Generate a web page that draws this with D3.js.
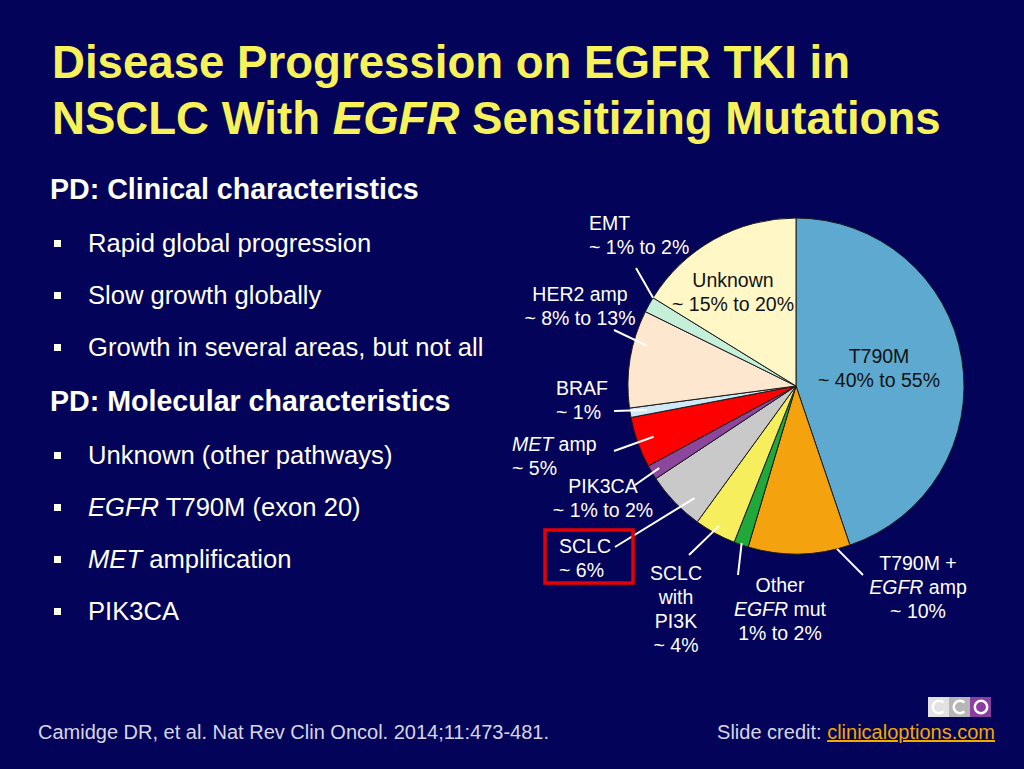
<!DOCTYPE html>
<html lang="en">
<head>
<meta charset="UTF-8">
<title>Disease Progression on EGFR TKI</title>
<style>
    body{ margin:0; background:#03035a; }
    svg{ display:block; font-family: "Liberation Sans", Arial, sans-serif; }
    .title{ fill:#f7f25a; font-weight:bold; font-size:45.6px; }
    .head{ fill:#fffff2; font-weight:bold; font-size:28.6px; }
    .bullet{ fill:#fffff2; font-size:25.6px; }
    .slice{ stroke:#1c1c1c; stroke-width:1px; }
    .lbl{ fill:#ffffff; font-size:19.5px; }
    .lbl.inside{ fill:#111111; }
    .leader{ stroke:#ffffff; stroke-width:2px; }
    .cite{ fill:#d6d6e6; font-size:20px; }
    .link{ fill:#f2a900; text-decoration:underline; }
</style>
<script src="https://cdn.jsdelivr.net/npm/d3@7"></script>
</head>
<body>
<script>
    // ---- data ----
    const titleLines = ["Disease Progression on EGFR TKI in", "NSCLC With _EGFR_ Sensitizing Mutations"];
    const clinicalHead = "PD: Clinical characteristics";
    const clinicalItems = ["Rapid global progression", "Slow growth globally", "Growth in several areas, but not all"];
    const molecularHead = "PD: Molecular characteristics";
    const molecularItems = ["Unknown (other pathways)", "_EGFR_ T790M (exon 20)", "_MET_ amplification", "PIK3CA"];

    // pie slices, clockwise from 12 o'clock
    const categories = ["T790M", "T790M + EGFR amp", "Other EGFR mut", "SCLC with PI3K", "SCLC",
        "PIK3CA", "MET amp", "BRAF", "HER2 amp", "EMT", "Unknown"];
    const shares = [44.8, 9.8, 1.4, 4.0, 5.7, 1.4, 4.9, 0.9, 9.4, 1.5, 16.2];
    const labelText = [
        ["T790M", "~ 40% to 55%"],
        ["T790M +", "_EGFR_ amp", "~ 10%"],
        ["Other", "_EGFR_ mut", "1% to 2%"],
        ["SCLC", "with", "PI3K", "~ 4%"],
        ["SCLC", "~ 6%"],
        ["PIK3CA", "~ 1% to 2%"],
        ["_MET_ amp", "~ 5%"],
        ["BRAF", "~ 1%"],
        ["HER2 amp", "~ 8% to 13%"],
        ["EMT", "~ 1% to 2%"],
        ["Unknown", "~ 15% to 20%"]
    ];
    const citation = "Camidge DR, et al. Nat Rev Clin Oncol. 2014;11:473-481.";

    // ---- styles / layout ----
    const sliceColors = ["#5da9cf", "#f4a30e", "#21a83a", "#f6ee5c", "#c9c9c9",
        "#8c479c", "#ff0000", "#cfe9f6", "#fde8cf", "#c6efd9", "#fff8c6"];
    // label anchor (x, first baseline y), text-anchor, leader outer end, leader inner point (t along slice, radius factor)
    const labelLayout = [
        {x:879, y:363, a:"middle", inside:true},
        {x:918, y:570, a:"middle", lx:863, ly:575, t:0.13, rf:1.0},
        {x:780, y:592, a:"middle", lx:738, ly:575, t:0.5, rf:0.99},
        {x:676, y:580, a:"middle", lx:689, ly:555, t:0.5, rf:0.95},
        {x:559, y:553, a:"start",  lx:615, ly:547, t:0.3, rf:0.9},
        {x:603, y:493, a:"middle", lx:635, ly:485, t:0.5, rf:0.95},
        {x:512, y:451, a:"start",  lx:614, ly:451, t:0.5, rf:0.9},
        {x:556, y:395, a:"start",  lx:614, ly:411, t:0.5, rf:0.9},
        {x:580, y:301, a:"middle", lx:614, ly:330, t:0.67, rf:0.92},
        {x:589, y:230, a:"start",  lx:636, ly:268, t:1.0, rf:1.0},
        {x:733, y:287, a:"middle", inside:true}
    ];

    const width = 1024, height = 769;
    const cx = 796, cy = 386, radius = 168;

    const svg = d3.select("body").append("svg")
        .attr("width", width).attr("height", height)
        .attr("viewBox", `0 0 ${width} ${height}`);

    svg.append("rect").attr("width", width).attr("height", height).attr("fill", "#03035a");

    // write a line where _text_ is italic
    function richText(sel, str){
        str.split("_").forEach((part, i) => {
            if(part === "") return;
            sel.append("tspan").text(part).style("font-style", i % 2 ? "italic" : "normal");
        });
    }

    // title
    titleLines.forEach((t, i) => {
        richText(svg.append("text").attr("class", "title").attr("x", 52).attr("y", 78 + i*56), t);
    });

    // left text block
    function block(head, items, y0){
        svg.append("text").attr("class", "head").attr("x", 50).attr("y", y0).text(head);
        items.forEach((t, i) => {
            const y = y0 + 53 + i*52;
            svg.append("rect").attr("x", 54).attr("y", y - 12).attr("width", 7).attr("height", 7).attr("fill", "#fffff2");
            richText(svg.append("text").attr("class", "bullet").attr("x", 88).attr("y", y), t);
        });
    }
    block(clinicalHead, clinicalItems, 199);
    block(molecularHead, molecularItems, 411);

    // pie
    const pie = d3.pie().sort(null).value(d => d);
    const arcs = pie(shares);
    const arc = d3.arc().innerRadius(0).outerRadius(radius);

    const g = svg.append("g").attr("transform", `translate(${cx},${cy})`);
    g.selectAll("path.slice")
        .data(arcs)
        .enter()
        .append("path")
        .attr("class", "slice")
        .attr("fill", (d, i) => sliceColors[i])
        .attr("d", arc);

    // leader lines
    arcs.forEach((d, i) => {
        const L = labelLayout[i];
        if(L.inside) return;
        const ang = d.startAngle + L.t * (d.endAngle - d.startAngle);
        const r = L.rf * radius;
        svg.append("line").attr("class", "leader")
            .attr("x1", L.lx).attr("y1", L.ly)
            .attr("x2", cx + r*Math.sin(ang)).attr("y2", cy - r*Math.cos(ang));
    });

    // labels
    labelText.forEach((lines, i) => {
        const L = labelLayout[i];
        lines.forEach((ln, j) => {
            richText(svg.append("text")
                .attr("class", L.inside ? "lbl inside" : "lbl")
                .attr("x", L.x).attr("y", L.y + j*24)
                .attr("text-anchor", L.a), ln);
        });
    });

    // red highlight around SCLC
    svg.append("rect").attr("x", 545).attr("y", 530).attr("width", 88).attr("height", 53)
        .attr("fill", "none").attr("stroke", "#e80000").attr("stroke-width", 3.5);

    // footer
    svg.append("text").attr("class", "cite").attr("x", 38).attr("y", 739).text(citation);
    const credit = svg.append("text").attr("class", "cite").attr("x", 995).attr("y", 739).attr("text-anchor", "end");
    credit.append("tspan").text("Slide credit: ");
    credit.append("tspan").attr("class", "link").text("clinicaloptions.com");

    // logo
    const logo = svg.append("g").attr("transform", "translate(928,697)");
    const logoCols = ["#e2e2e2", "#b6b6b6", "#8a3fa0"];
    logoCols.forEach((c, i) => {
        logo.append("rect").attr("x", i*21).attr("width", 21).attr("height", 20).attr("fill", c);
    });
    const cArc = d3.arc().innerRadius(5).outerRadius(7.5).startAngle(Math.PI*0.75).endAngle(Math.PI*2.25);
    [0, 1].forEach(i => {
        logo.append("path").attr("d", cArc()).attr("fill", "#ffffff")
            .attr("transform", `translate(${i*21 + 11},10)`);
    });
    logo.append("circle").attr("cx", 53).attr("cy", 10).attr("r", 6.2)
        .attr("fill", "none").attr("stroke", "#ffffff").attr("stroke-width", 2.5);
</script>
</body>
</html>
